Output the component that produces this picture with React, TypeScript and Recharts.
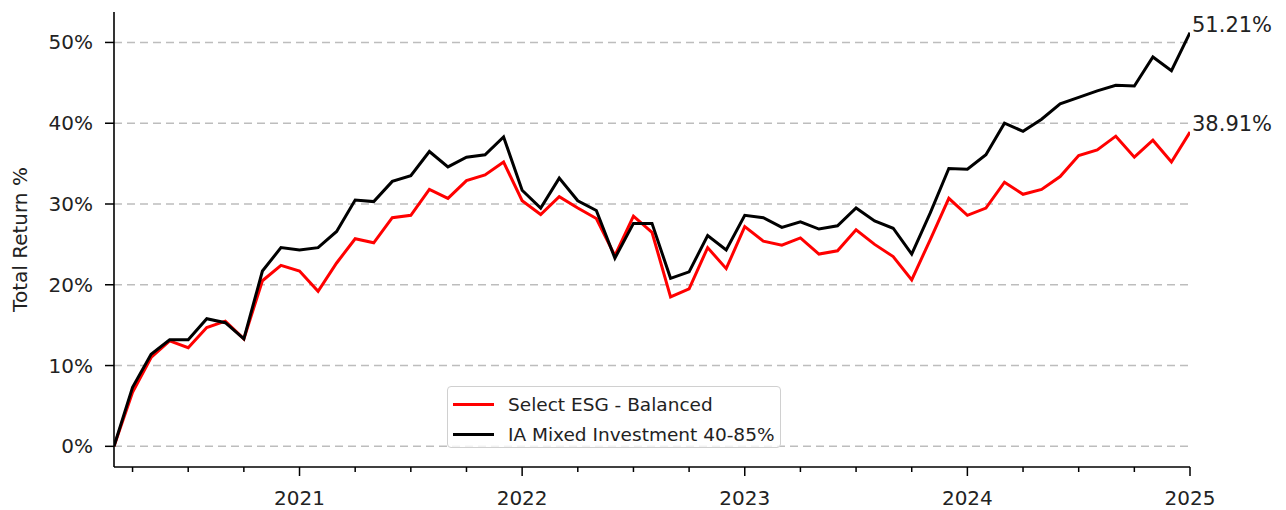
import React from "react";
import {
  LineChart,
  Line,
  XAxis,
  YAxis,
  CartesianGrid,
  Label,
  LabelList,
} from "recharts";

// month-end total return %, starting Feb 2020 (index 0) through Dec 2024 (index 58)
const esgBalanced = [
  0, 6.7, 11.0, 13.05, 12.2, 14.7, 15.5, 13.3, 20.5, 22.4, 21.7, 19.2, 22.7,
  25.7, 25.2, 28.3, 28.6, 31.8, 30.7, 32.9, 33.6, 35.2, 30.4, 28.7, 30.9, 29.5,
  28.2, 23.6, 28.5, 26.5, 18.5, 19.5, 24.6, 22.0, 27.2, 25.4, 24.9, 25.8, 23.8,
  24.2, 26.8, 25.0, 23.5, 20.6, 25.6, 30.7, 28.6, 29.5, 32.7, 31.2, 31.8, 33.4,
  36.0, 36.7, 38.4, 35.8, 37.9, 35.2, 38.91,
];

const iaMixed = [
  0, 7.3, 11.4, 13.2, 13.2, 15.8, 15.3, 13.3, 21.7, 24.6, 24.3, 24.6, 26.6,
  30.5, 30.3, 32.8, 33.5, 36.5, 34.6, 35.8, 36.1, 38.3, 31.7, 29.5, 33.2, 30.4,
  29.2, 23.3, 27.6, 27.6, 20.8, 21.6, 26.1, 24.3, 28.6, 28.3, 27.1, 27.8, 26.9,
  27.3, 29.5, 27.9, 27.0, 23.8, 28.9, 34.4, 34.3, 36.1, 40.0, 39.0, 40.5, 42.4,
  43.2, 44.0, 44.7, 44.6, 48.2, 46.5, 51.21,
];

// x ticks: quarter starts (month index), year labels on January
const xTicks = [1, 4, 7, 10, 13, 16, 19, 22, 25, 28, 31, 34, 37, 40, 43, 46, 49, 52, 55, 58];
const yearTicks: Record<number, string> = {
  10: "2021",
  22: "2022",
  34: "2023",
  46: "2024",
  58: "2025",
};
const yTicks = [0, 10, 20, 30, 40, 50];
const Y_MIN = -2.56;
const Y_MAX = 53.77;

const SERIES = [
  { key: "esg", name: "Select ESG - Balanced", color: "#ff0000" },
  { key: "ia", name: "IA Mixed Investment 40-85%", color: "#000000" },
];

const data = esgBalanced.map((v, i) => ({ i, esg: v, ia: iaMixed[i] }));

const FONT = "'DejaVu Sans', sans-serif";
const TEXT = "#222";
const LAST = esgBalanced.length - 1;

const XTick = (props: any) => {
  const { x, y, payload } = props;
  const label = yearTicks[payload.value];
  return (
    <g>
      <line x1={x} x2={x} y1={y} y2={y + (label ? 9 : 5)} stroke="#000" strokeWidth={1.5} />
      {label && (
        <text x={x} y={y + 38} textAnchor="middle" fill={TEXT} fontSize={20} fontFamily={FONT}>
          {label}
        </text>
      )}
    </g>
  );
};

const YTick = (props: any) => {
  const { x, y, payload } = props;
  return (
    <g>
      <line x1={x - 9} x2={x} y1={y} y2={y} stroke="#000" strokeWidth={1.5} />
      <text x={x - 21} y={y + 7} textAnchor="end" fill={TEXT} fontSize={20} fontFamily={FONT}>
        {`${payload.value}%`}
      </text>
    </g>
  );
};

const endLabel = (props: any) => {
  const { x, y, value, index } = props;
  if (index !== LAST) return null;
  return (
    <text x={x + 2} y={y - 1} fill={TEXT} fontSize={21} fontFamily={FONT}>
      {`${value.toFixed(2)}%`}
    </text>
  );
};

const YTitle = (props: any) => {
  const { viewBox } = props;
  const cy = viewBox.y + viewBox.height / 2;
  return (
    <text
      x={27}
      y={cy}
      transform={`rotate(-90, 27, ${cy})`}
      textAnchor="middle"
      fill={TEXT}
      fontSize={20}
      fontFamily={FONT}
    >
      Total Return %
    </text>
  );
};

// grid only at the tick values (no line along the top edge)
const gridRows = ({ offset }: any) =>
  yTicks.map((t) => offset.top + ((Y_MAX - t) / (Y_MAX - Y_MIN)) * offset.height);

export default function App() {
  return (
    <div style={{ position: "absolute", left: 0, top: 0, width: 1286, height: 510, background: "#fff" }}>
      <LineChart
        width={1286}
        height={510}
        data={data}
        margin={{ top: 12, right: 96, bottom: 0, left: 0 }}
      >
        <CartesianGrid
          vertical={false}
          stroke="#bdbdbd"
          strokeWidth={1.5}
          strokeDasharray="8 5"
          horizontalCoordinatesGenerator={gridRows}
        />
        <XAxis
          dataKey="i"
          type="number"
          domain={[0, 58]}
          ticks={xTicks}
          interval={0}
          height={43}
          tickSize={0}
          tickMargin={0}
          tickLine={false}
          tick={<XTick />}
          axisLine={{ stroke: "#000", strokeWidth: 1.6 }}
          allowDataOverflow
        />
        <YAxis
          type="number"
          domain={[Y_MIN, Y_MAX]}
          ticks={yTicks}
          interval={0}
          width={114}
          tickSize={0}
          tickMargin={0}
          tickLine={false}
          tick={<YTick />}
          axisLine={{ stroke: "#000", strokeWidth: 1.6 }}
          allowDataOverflow
        >
          <Label content={<YTitle />} />
        </YAxis>
        {SERIES.map((s) => (
          <Line
            key={s.key}
            dataKey={s.key}
            name={s.name}
            type="linear"
            stroke={s.color}
            strokeWidth={3}
            dot={false}
            activeDot={false}
            isAnimationActive={false}
          >
            <LabelList dataKey={s.key} content={endLabel} />
          </Line>
        ))}
      </LineChart>
      <div
        style={{
          position: "absolute",
          left: 447,
          top: 386,
          width: 334,
          height: 62,
          boxSizing: "border-box",
          border: "1px solid #d0d0d0",
          borderRadius: 4,
          background: "rgba(255,255,255,0.8)",
          fontFamily: FONT,
          fontSize: 18.5,
          color: TEXT,
        }}
      >
        {SERIES.map((s, k) => (
          <div
            key={s.key}
            style={{ position: "absolute", left: 0, top: 5 + k * 30, height: 24, display: "flex", alignItems: "center", whiteSpace: "nowrap" }}
          >
            <div style={{ marginLeft: 5, width: 41, height: 3, background: s.color }} />
            <span style={{ marginLeft: 14 }}>{s.name}</span>
          </div>
        ))}
      </div>
    </div>
  );
}
